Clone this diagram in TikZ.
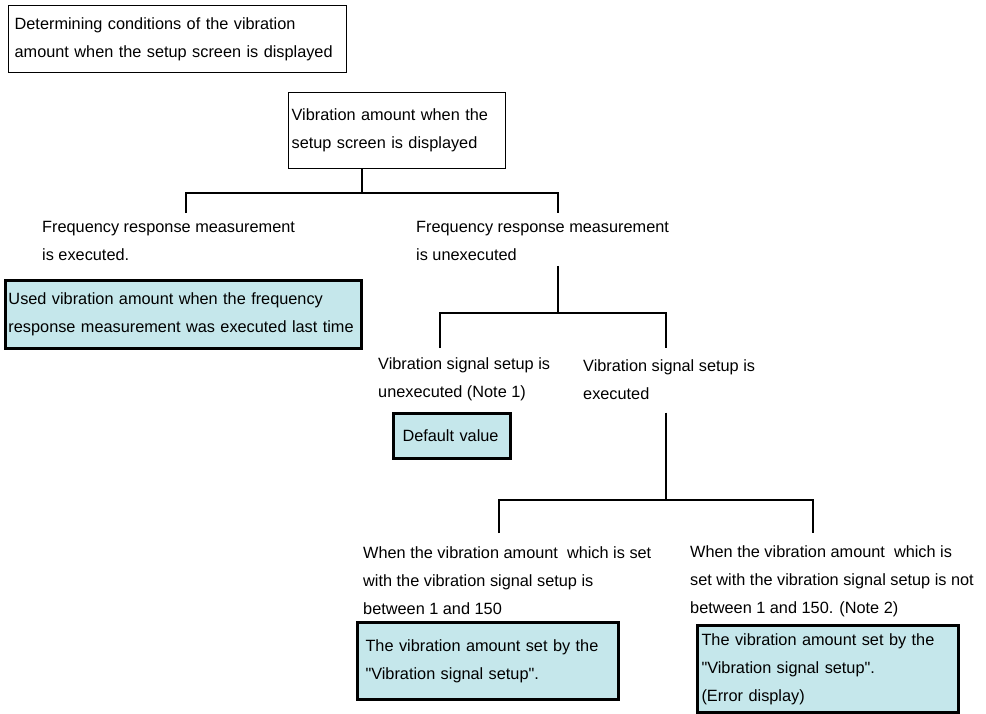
\documentclass[tikz,border=0pt]{standalone}
\usepackage{fontspec}
\setmainfont{Liberation Sans}[Ligatures=TeXOff]
\definecolor{boxcyan}{RGB}{197,231,235}
\begin{document}
\begin{tikzpicture}[x=1pt,y=-1pt,
  every node/.style={font=\fontsize{16.3}{28}\selectfont},
  plainbox/.style={draw=black,line width=1.3pt,fill=white,align=left,anchor=north west,inner ysep=0pt},
  resultbox/.style={draw=black,line width=3pt,fill=boxcyan,align=left,anchor=north west,inner ysep=0pt},
  txt/.style={align=left,anchor=west,inner sep=0pt},
  conn/.style={draw=black,line width=1.2pt}]
\useasboundingbox[fill=white] (0,0) rectangle (986,713);

% boxes
\node[plainbox, minimum width=338pt, minimum height=67pt, text width=326pt, inner xsep=6pt] (b1) at (8,5)
  {\mbox{Determining conditions of the vibration}\\\mbox{amount when the setup screen is displayed}};
\node[plainbox, minimum width=217pt, minimum height=76pt, text width=211pt, inner xsep=3pt] (root) at (288,92)
  {\mbox{Vibration amount when the}\\\mbox{setup screen is displayed}};
\node[resultbox, minimum width=356pt, minimum height=68pt, text width=350pt, inner xsep=3pt] (c1) at (4,279)
  {\mbox{Used vibration amount when the frequency}\\\mbox{response measurement was executed last time}};
\node[resultbox, minimum width=117pt, minimum height=45pt, text width=99pt, inner xsep=9pt] (dv) at (392,412)
  {\mbox{Default value}};
\node[resultbox, minimum width=261pt, minimum height=77pt, text width=245pt, inner xsep=8pt] (c2) at (356,621)
  {\mbox{The vibration amount set by the}\\\mbox{"Vibration signal setup".}};
\node[resultbox, minimum width=261pt, minimum height=87pt, text width=253pt, inner xsep=4pt] (c3) at (696,624)
  {\mbox{The vibration amount set by the}\\\mbox{"Vibration signal setup".}\\\mbox{(Error display)}};

% condition texts
\node[txt] (fe) at (42,241) {Frequency response measurement\\is executed.};
\node[txt] (fu) at (416,241) {Frequency response measurement\\is unexecuted};
\node[txt] (vu) at (378,379.5) {Vibration signal setup is\\unexecuted (Note 1)};
\node[txt] (ve) at (583,379.5) {Vibration signal setup is\\executed};
\node[txt] (w1) at (363,581) {When the vibration amount~ which is set\\with the vibration signal setup is\\between 1 and 150};
\node[txt] (w2) at (690,581) {When the vibration amount~ which is\\set with the vibration signal setup is not\\between 1 and 150. (Note 2)};

% tree connectors
\coordinate (j1) at (362,193);
\coordinate (d1l) at (186,213);
\coordinate (d1r) at (558,213);
\draw[conn] (root.south -| j1) -- (j1);
\draw[conn] (d1l) |- (j1) -| (d1r);

\coordinate (j2) at (558,313);
\coordinate (d2l) at (440,348);
\coordinate (d2r) at (666,348);
\draw[conn] ([yshift=-5pt]fu.south -| j2) -- (j2);
\draw[conn] (d2l) |- (j2) -| (d2r);

\coordinate (j3) at (666,500);
\coordinate (d3l) at (499,533);
\coordinate (d3r) at (813,533);
\draw[conn] ([yshift=-13pt]ve.south -| j3) -- (j3);
\draw[conn] (d3l) |- (j3) -| (d3r);
\end{tikzpicture}
\end{document}
